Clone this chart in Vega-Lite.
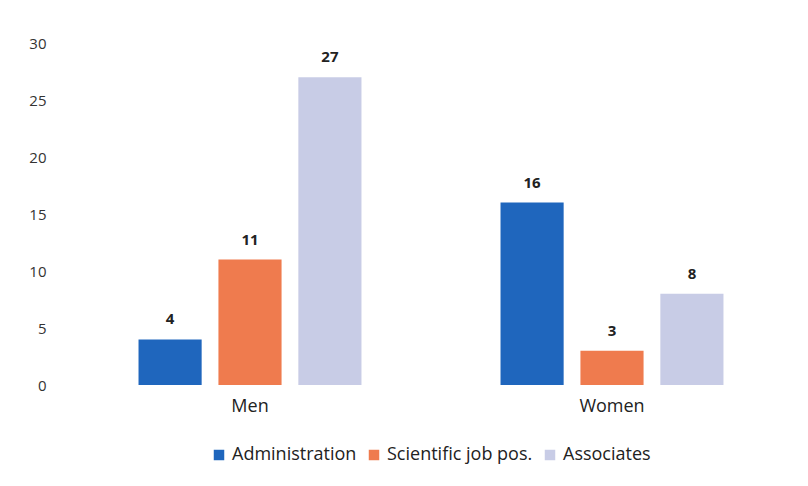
{
  "$schema": "https://vega.github.io/schema/vega-lite/v6.json",
  "width": 724,
  "height": 342,
  "autosize": {"type": "none"},
  "padding": {"left": 69, "top": 43, "right": 15, "bottom": 101},
  "background": "white",
  "config": {"view": {"stroke": null}, "font": "Open Sans"},
  "data": {
    "values": [
      {"gender": "Men", "category": "Administration", "count": 4},
      {"gender": "Men", "category": "Scientific job pos.", "count": 11},
      {"gender": "Men", "category": "Associates", "count": 27},
      {"gender": "Women", "category": "Administration", "count": 16},
      {"gender": "Women", "category": "Scientific job pos.", "count": 3},
      {"gender": "Women", "category": "Associates", "count": 8}
    ]
  },
  "encoding": {
    "x": {
      "field": "gender", "type": "nominal",
      "scale": {"paddingInner": 0, "paddingOuter": 0},
      "axis": {"title": null, "labelAngle": 0, "ticks": false, "domain": false, "labelPadding": 12, "labelFontSize": 18, "labelFontWeight": 500, "labelColor": "#222", "labelFont": "Open Sans"}
    },
    "xOffset": {
      "field": "category", "type": "nominal",
      "sort": ["Administration", "Scientific job pos.", "Associates"],
      "scale": {"paddingInner": 0.21, "paddingOuter": 0.87}
    },
    "y": {
      "field": "count", "type": "quantitative",
      "scale": {"domain": [0, 30]},
      "axis": {"title": null, "values": [0, 5, 10, 15, 20, 25, 30], "grid": false, "ticks": false, "domain": false, "labelPadding": 23, "labelFontSize": 15, "labelColor": "#333", "labelFont": "Open Sans"}
    }
  },
  "layer": [
    {
      "mark": {"type": "bar"},
      "encoding": {
        "color": {
          "field": "category", "type": "nominal",
          "sort": ["Administration", "Scientific job pos.", "Associates"],
          "scale": {"domain": ["Administration", "Scientific job pos.", "Associates"], "range": ["#1f66bd", "#ef7b4e", "#c8cce6"]},
          "legend": {
            "title": null, "orient": "none", "direction": "horizontal",
            "legendX": 141, "legendY": 403,
            "symbolType": "square", "symbolSize": 110, "symbolStrokeWidth": 0,
            "labelFontSize": 18, "labelFontWeight": 500, "labelColor": "#222", "labelFont": "Open Sans",
            "columnPadding": 8, "labelOffset": 4, "labelLimit": 300
          }
        }
      }
    },
    {
      "mark": {"type": "text", "dy": -12, "baseline": "bottom", "fontSize": 15, "fontWeight": "bold", "color": "#222", "font": "Open Sans"},
      "encoding": {"text": {"field": "count", "type": "quantitative"}}
    }
  ]
}
